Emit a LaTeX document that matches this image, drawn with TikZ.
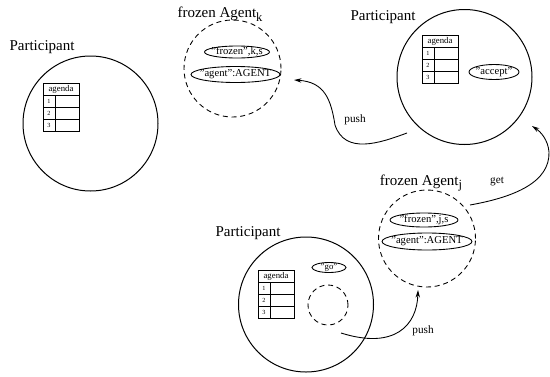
\documentclass[tikz,border=0pt]{standalone}
\usepackage{fontspec}
\setmainfont{Liberation Serif}
\usetikzlibrary{arrows.meta,positioning,shapes.geometric}

\def\px{0.8pt}
\tikzset{
  participant/.style={draw,circle,line width=0.8pt,minimum size=135*\px,inner sep=0},
  frozenbox/.style={draw,circle,dash pattern=on 4pt off 3pt,line width=0.7pt,inner sep=0},
  tuple/.style={draw,ellipse,line width=0.7pt,inner xsep=-3.4pt,inner ysep=-0.6pt,
                font=\fontsize{8.5}{9}\selectfont},
  biglabel/.style={font=\fontsize{12}{14}\selectfont},
  oplabel/.style={font=\fontsize{9}{10}\selectfont},
  flow/.style={-{Stealth[length=6pt,width=3.5pt]},line width=0.7pt},
}
\newcommand{\agentsub}[1]{\raisebox{-0.5ex}{\fontsize{10}{12}\selectfont #1}}

% agenda table: name, top-left corner
\newcommand{\agendatable}[2]{%
  \begin{scope}[shift={#2}]
    \draw[line width=0.6pt] (0,0) rectangle (36,48);
    \draw[line width=0.6pt] (0,12) -- (36,12) (0,24) -- (36,24) (0,36) -- (36,36) (12,12) -- (12,48);
    \node[font=\fontsize{7}{8}\selectfont,inner sep=0] (#1) at (18,6) {agenda};
    \foreach \i in {1,2,3}
      \node[font=\fontsize{5}{6}\selectfont,inner sep=0] (#1-\i) at (6,6+12*\i) {\i};
  \end{scope}}

\begin{document}
\begin{tikzpicture}[x=0.8pt,y=-0.8pt]
  \useasboundingbox (0,0) rectangle (550,376);

  % ── participants ────────────────────────────────
  \node[participant] (partA) at (90.5,123.5) {};
  \node[participant] (partB) at (464.5,77) {};
  \node[participant] (partC) at (306,304.5) {};

  \node[biglabel] (partAlbl) at (42,47) {Participant};
  \node[biglabel] (partBlbl) at (383,17) {Participant};
  \node[biglabel] (partClbl) at (248,233) {Participant};

  \agendatable{agA}{(43,83)}
  \agendatable{agB}{(422,35)}
  \agendatable{agC}{(258,270)}

  \node[tuple,minimum width=50*\px,minimum height=15*\px] (accept) at (494,72) {"accept"};
  \node[tuple,minimum width=34*\px,minimum height=10*\px,font=\fontsize{7}{8}\selectfont] (go) at (329,267.5) {"go"};
  \node[frozenbox,minimum size=40*\px] (slotC) at (328,305) {};

  % ── frozen agents ───────────────────────────────
  \node[frozenbox,minimum size=97*\px] (frozK) at (232.5,68.5) {};
  \node[biglabel] (frozKlbl) at (220,14) {frozen Agent\agentsub{k}};
  \node[tuple,minimum width=65*\px,minimum height=12*\px] (tupK) at (237,52) {"frozen",k,s};
  \node[tuple,minimum width=89*\px,minimum height=16*\px] (agentK) at (235.5,74.5) {"agent":AGENT};

  \node[frozenbox,minimum size=97*\px] (frozJ) at (427,238.5) {};
  \node[biglabel] (frozJlbl) at (421,183) {frozen Agent\agentsub{j}};
  \node[tuple,minimum width=68*\px,minimum height=14*\px] (tupJ) at (424,220) {"frozen",j,s};
  \node[tuple,minimum width=90*\px,minimum height=17*\px] (agentJ) at (427,241.5) {"agent":AGENT};

  % ── moves ───────────────────────────────────────
  \coordinate (pushKstart) at (407,133);
  \coordinate (pushKend) at (294,80);
  \draw[flow] (pushKstart) .. controls (380,143) and (345,155) .. (335,125)
    .. controls (331,100) and (325,82) .. (pushKend);
  \node[oplabel] (pushKlbl) at (355,120) {push};

  \coordinate (getStart) at (470,205);
  \coordinate (getEnd) at (532,126);
  \draw[flow] (getStart) .. controls (515,197) and (550,182) .. (549,152)
    .. controls (548,140) and (541,132) .. (getEnd);
  \node[oplabel] (getlbl) at (497,182) {get};

  \coordinate (pushJstart) at (341,333);
  \coordinate (pushJend) at (418,290);
  \draw[flow] (pushJstart) .. controls (395,350) and (417,325) .. (pushJend);
  \node[oplabel] (pushJlbl) at (423,331) {push};

\end{tikzpicture}
\end{document}
